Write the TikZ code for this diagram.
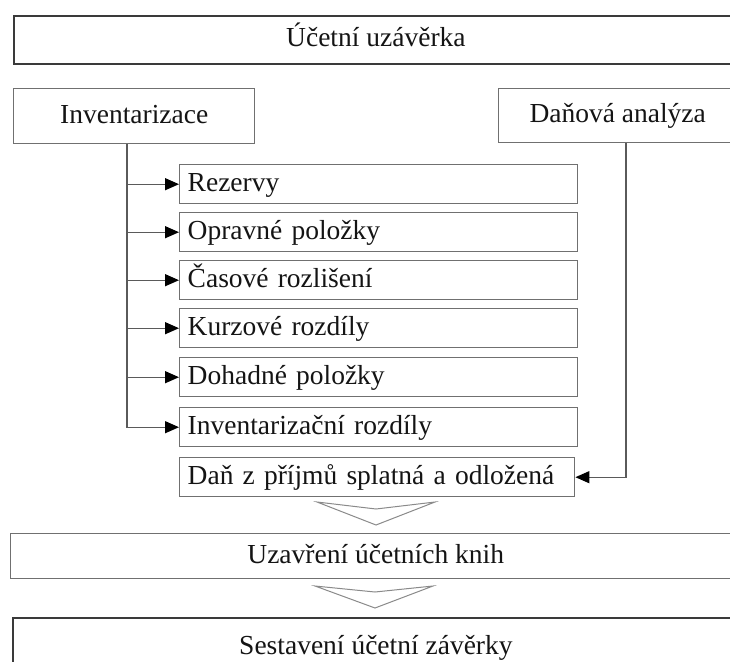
\documentclass[tikz,border=0pt]{standalone}
\usepackage{fontspec}
\setmainfont{Liberation Serif}
\usetikzlibrary{arrows.meta}
\definecolor{boxgray}{HTML}{707070}
\definecolor{darkbox}{HTML}{3A3A3A}
\definecolor{linegray}{HTML}{5A5A5A}
\definecolor{chevgray}{HTML}{8A8A8A}
\tikzset{
  every node/.style={font=\fontsize{27.5}{32}\selectfont, text=black!92, text height=21pt, text depth=7pt},
  mainbox/.style={draw=darkbox, line width=1.8pt, inner sep=0pt, anchor=north west},
  midbox/.style={draw=boxgray, line width=1.4pt, inner sep=0pt, anchor=north west},
  itembox/.style={draw=boxgray, line width=1.4pt, anchor=north west, minimum width=398pt,
     minimum height=39pt, text width=382pt, align=left, inner xsep=8pt, inner ysep=0pt},
  conn/.style={draw=linegray, line width=1.3pt},
  arr/.style={conn, -{Triangle[length=14pt,width=12pt,color=black]}},
  chev/.style={draw=chevgray, line width=1pt, line join=miter}
}
\begin{document}
\begin{tikzpicture}[x=1pt,y=-1pt]
\useasboundingbox (0,0) rectangle (730,661);
\node[mainbox, minimum width=724pt, minimum height=48pt] (top) at (13,15) {Účetní uzávěrka};
\node[midbox, minimum width=241pt, minimum height=55pt] (inv) at (13,88) {Inventarizace};
\node[midbox, minimum width=238pt, minimum height=54pt] (dan) at (498,88) {Daňová analýza};
\node[itembox] (r1) at (179,164) {\mbox{Rezervy}};
\node[itembox] (r2) at (179,212) {\mbox{Opravné položky}};
\node[itembox] (r3) at (179,260) {\mbox{Časové rozlišení}};
\node[itembox] (r4) at (179,308) {\mbox{Kurzové rozdíly}};
\node[itembox] (r5) at (179,357) {\mbox{Dohadné položky}};
\node[itembox] (r6) at (179,407) {\mbox{Inventarizační rozdíly}};
\node[itembox, minimum width=395pt, text width=379pt] (r7) at (179,457) {\mbox{Daň z příjmů splatná a odložená}};
\node[midbox, minimum width=730pt, minimum height=45pt] (uz) at (10,533) {Uzavření účetních knih};
\node[mainbox, minimum width=726pt, minimum height=60pt] (ses) at (12,617) {Sestavení účetní závěrky};
\coordinate (vl) at (127,0);
\coordinate (vr) at (626,0);
\draw[conn] (inv.south -| vl) |- ([xshift=-14pt]r6.west);
\foreach \n in {r1,r2,r3,r4,r5,r6} \draw[arr] (vl |- \n.west) -- (\n.west);
\draw[arr] (dan.south -| vr) |- (r7.east);
\draw[chev] (317,502) -- (376,525) -- (435,502) -- (376,509) -- cycle;
\draw[chev] (315,586) -- (375,608) -- (433,586) -- (375,592) -- cycle;
\end{tikzpicture}
\end{document}
